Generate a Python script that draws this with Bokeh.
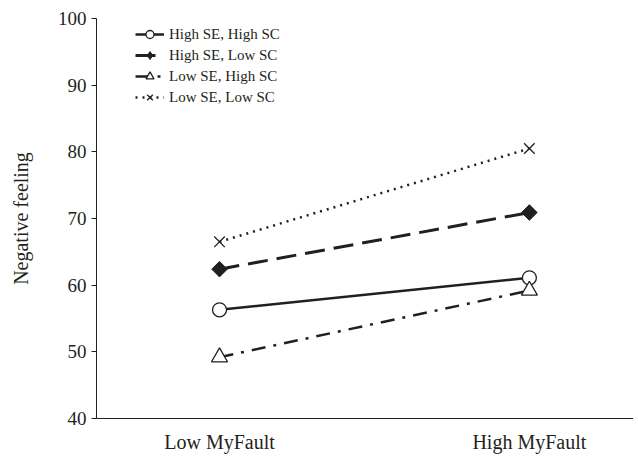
import math
from bokeh.plotting import figure
from bokeh.models import Range1d, FixedTicker, Legend, LegendItem
from bokeh.embed import file_html
from bokeh.resources import INLINE

categories = ["Low MyFault", "High MyFault"]
x_pos = [0, 1]
series_names = ["High SE, High SC", "High SE, Low SC", "Low SE, High SC", "Low SE, Low SC"]
hse_hsc = [56.3, 61.1]
hse_lsc = [62.4, 70.9]
lse_hsc = [49.2, 59.2]
lse_lsc = [66.5, 80.5]
y_ticks = [40, 50, 60, 70, 80, 90, 100]

FONT = "Liberation Serif"

p = figure(output_backend="svg", toolbar_location=None,
           frame_width=537, frame_height=400,
           min_border_left=96, min_border_top=18, min_border_bottom=34, min_border_right=0,
           x_range=Range1d(-0.397, 1.336), y_range=Range1d(40, 100))
p.outline_line_color = None
p.xgrid.visible = False
p.ygrid.visible = False
p.background_fill_color = "white"

c = "#231f20"

# axes
p.yaxis.ticker = FixedTicker(ticks=y_ticks)
p.yaxis.minor_tick_line_color = None
p.yaxis.major_tick_out = 5
p.yaxis.major_tick_in = 0
p.yaxis.axis_line_color = c
p.yaxis.major_tick_line_color = c
p.yaxis.major_label_text_font = FONT
p.yaxis.major_label_text_font_size = "19px"
p.yaxis.major_label_text_color = c
p.yaxis.major_label_standoff = 5
p.yaxis.axis_label = "Negative feeling"
p.yaxis.axis_label_text_font = FONT
p.yaxis.axis_label_text_font_size = "20px"
p.yaxis.axis_label_text_font_style = "normal"
p.yaxis.axis_label_text_color = c
p.yaxis.axis_label_standoff = 23

p.xaxis.ticker = FixedTicker(ticks=x_pos)
p.xaxis.major_label_overrides = {x: cat for x, cat in zip(x_pos, categories)}
p.xaxis.major_tick_line_color = None
p.xaxis.minor_tick_line_color = None
p.xaxis.axis_line_color = c
p.xaxis.major_label_text_font = FONT
p.xaxis.major_label_text_font_size = "20px"
p.xaxis.major_label_text_color = c
p.xaxis.major_label_standoff = 6

l1 = p.line(x_pos, hse_hsc, line_color=c, line_width=2.5)
m1 = p.scatter(x_pos, hse_hsc, marker="circle", size=14, fill_color="white", line_color=c, line_width=1.3)

l2 = p.line(x_pos, hse_lsc, line_color=c, line_width=3, line_dash="20 9")
# diamond drawn beneath the rotated square; it is the one the legend shows
m2_leg = p.scatter(x_pos, hse_lsc, marker="diamond", size=14, fill_color=c, line_color=c, line_width=1)
m2 = p.scatter(x_pos, hse_lsc, marker="square", angle=math.pi / 4, size=11, fill_color=c, line_color=c, line_width=1)

l3 = p.line(x_pos, lse_hsc, line_color=c, line_width=2.5, line_dash="14 8 3 8")
m3 = p.scatter(x_pos, lse_hsc, marker="triangle", size=16, fill_color="white", line_color=c, line_width=1.3)

l4 = p.line(x_pos, lse_lsc, line_color=c, line_width=2.5, line_dash="2 5")
m4 = p.scatter(x_pos, lse_lsc, marker="x", size=15, line_color=c, line_width=1.3)

items = [LegendItem(label=series_names[0], renderers=[l1, m1]),
         LegendItem(label=series_names[1], renderers=[l2, m2_leg]),
         LegendItem(label=series_names[2], renderers=[l3, m3]),
         LegendItem(label=series_names[3], renderers=[l4, m4])]
legend = Legend(items=items, location=(39, 311))
legend.padding = 0
legend.margin = 0
legend.spacing = 1
legend.border_line_color = None
legend.background_fill_alpha = 0
legend.label_height = 20
legend.glyph_height = 20
legend.glyph_width = 29
legend.label_standoff = 5
legend.label_text_font = FONT
legend.label_text_font_size = "15px"
legend.label_text_color = c
p.add_layout(legend, "center")

open("out.html", "w").write(file_html(p, INLINE))
